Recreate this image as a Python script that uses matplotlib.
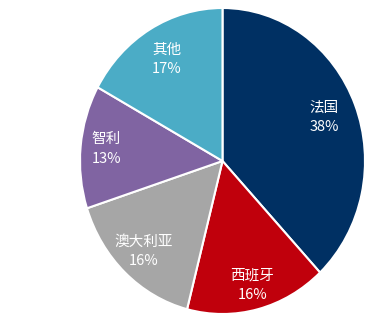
import numpy as np
import matplotlib.pyplot as plt

plt.rcParams['font.family'] = ['Noto Sans CJK SC', 'DejaVu Sans']

countries = ["法国", "西班牙", "澳大利亚", "智利", "其他"]
shares = [38, 16, 16, 13, 17]
colors = ["#003063", "#c0000c", "#a6a6a6", "#8064a2", "#4bacc6"]
label_r = [0.77, 0.84, 0.81, 0.82, 0.77]

fig = plt.figure(figsize=(3.74, 3.23), dpi=100)
# pie is slightly taller than wide in the original, so use a non-equal axes
ax = fig.add_axes([80 / 374, 9 / 323, 285 / 374, 306 / 323])

wedges, _ = ax.pie(
    shares,
    colors=colors,
    startangle=90,
    counterclock=False,
    wedgeprops=dict(edgecolor="white", linewidth=1.5),
)

# labels inside each wedge, name over percentage
for w, c, v, r in zip(wedges, countries, shares, label_r):
    mid = np.deg2rad((w.theta1 + w.theta2) / 2)
    ax.text(r * np.cos(mid), r * np.sin(mid), f"{c}\n{v}%",
            color="white", fontsize=10.5, ha="center", va="center",
            linespacing=1.5)

ax.set_aspect("auto")
ax.set_xlim(-1, 1)
ax.set_ylim(-1, 1)
ax.axis("off")

fig.savefig("out.png", dpi=100)
